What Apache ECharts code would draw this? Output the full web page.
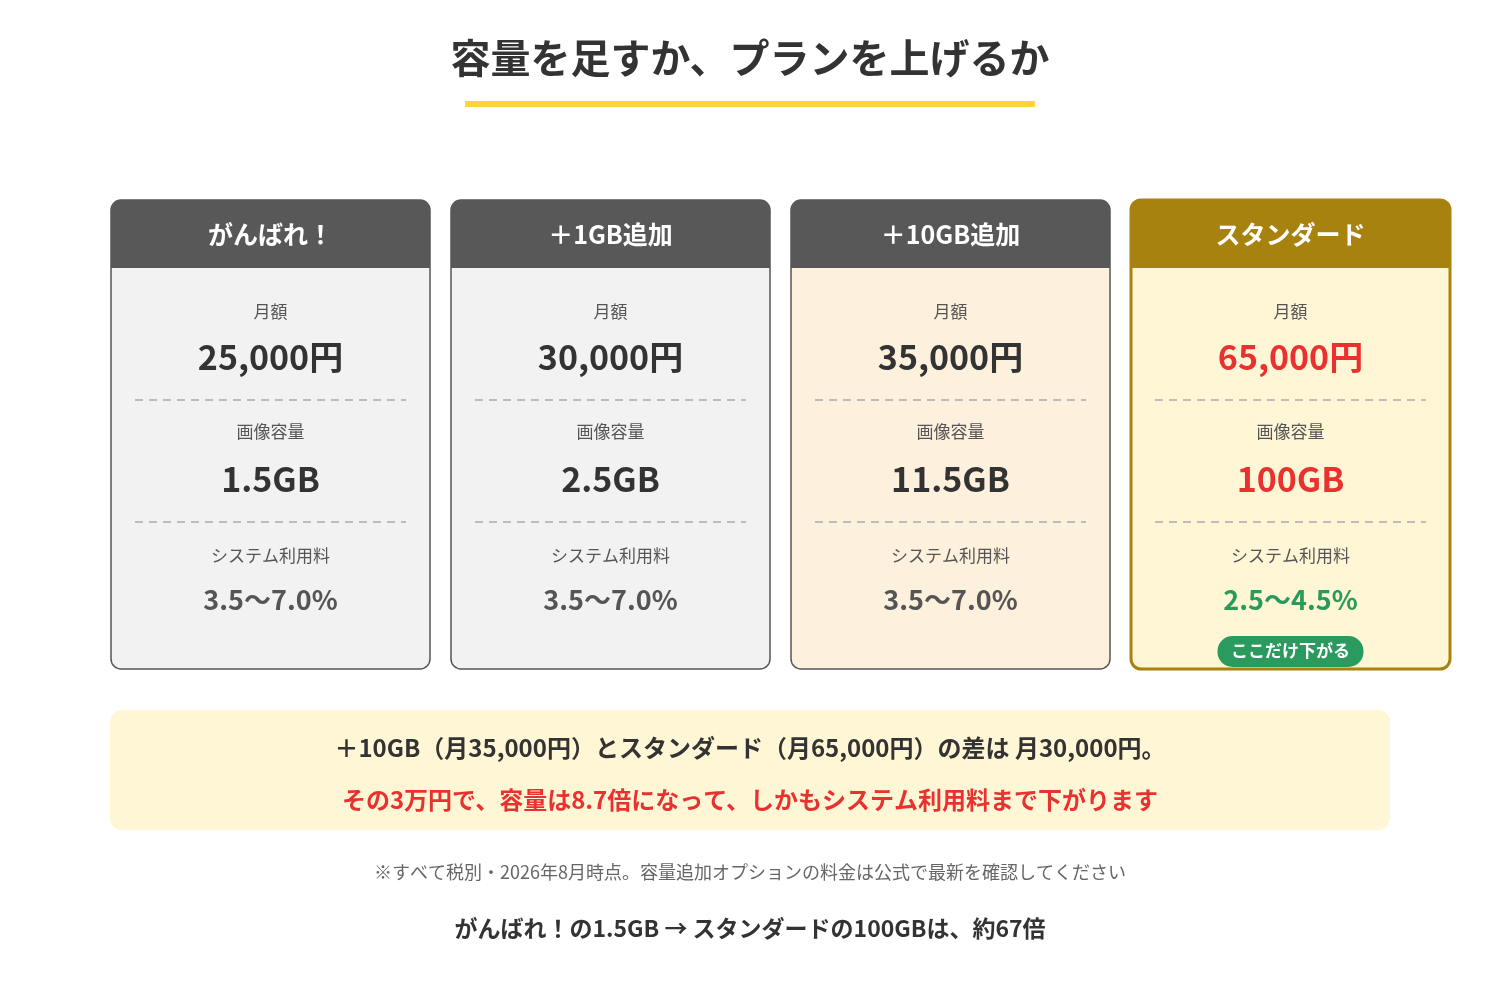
<!DOCTYPE html>
<html><head><meta charset="utf-8">
<script src="https://cdn.jsdelivr.net/npm/echarts@6/dist/echarts.min.js"></script>
<style>html,body{margin:0;padding:0;background:#fff}#c{width:1500px;height:1000px}</style>
</head><body><div id="c"></div>
<script>
const planNames = ['がんばれ！', '＋1GB追加', '＋10GB追加', 'スタンダード'];
const monthlyPrices = ['25,000円', '30,000円', '35,000円', '65,000円'];
const storage = ['1.5GB', '2.5GB', '11.5GB', '100GB'];
const feeRates = ['3.5〜7.0%', '3.5〜7.0%', '3.5〜7.0%', '2.5〜4.5%'];
const rowLabels = ['月額', '画像容量', 'システム利用料'];
const titleText = '容量を足すか、プランを上げるか';
const badgeText = 'ここだけ下がる';
const noteLine1 = '＋10GB（月35,000円）とスタンダード（月65,000円）の差は 月30,000円。';
const noteLine2 = 'その3万円で、容量は8.7倍になって、しかもシステム利用料まで下がります';
const footnote = '※すべて税別・2026年8月時点。容量追加オプションの料金は公式で最新を確認してください';
const summary = 'がんばれ！の1.5GB → スタンダードの100GBは、約67倍';

const JP = '"Noto Sans CJK JP", "Noto Sans", sans-serif';
const NUM = '"Liberation Sans Narrow", "Noto Sans CJK JP", sans-serif';
const bodyFill = ['#F2F2F2', '#F2F2F2', '#FDF0DC', '#FFF6D5'];
const headFill = ['#585858', '#585858', '#585858', '#A8820F'];
const g = [];
function txt(x, y, s, size, color, weight, font) {
  g.push({type: 'text', x: x, y: y, style: {text: s, fontSize: size, fill: color, fontWeight: weight || 'normal', fontFamily: font || JP, align: 'center', verticalAlign: 'middle'}});
}
txt(750, 58, titleText, 40, '#333', 'bold');
g.push({type: 'rect', shape: {x: 465, y: 101, width: 570, height: 6}, style: {fill: '#FFD43B'}});

planNames.forEach((name, i) => {
  const x = 111 + i * 340, w = 319, cx = x + w / 2;
  const last = i === 3;
  const bc = last ? '#A8820F' : '#555';
  g.push({type: 'rect', shape: {x: x, y: 200, width: w, height: 469, r: 10}, style: {fill: bodyFill[i], stroke: bc, lineWidth: last ? 3 : 1.5}});
  g.push({type: 'rect', shape: {x: x, y: 200, width: w, height: 68, r: [10, 10, 0, 0]}, style: {fill: headFill[i]}});
  txt(cx, 234, name, 25, '#fff', 'bold');
  const red = '#E8322F';
  txt(cx, 312, rowLabels[0], 17, '#555');
  txt(cx, 357, monthlyPrices[i], 34, last ? red : '#333', 'bold', NUM);
  g.push({type: 'line', shape: {x1: x + 24, y1: 400, x2: x + w - 24, y2: 400}, style: {stroke: '#aaa', lineWidth: 1.5, lineDash: [8, 6]}});
  txt(cx, 432, rowLabels[1], 17, '#555');
  txt(cx, 479, storage[i], 34, last ? red : '#333', 'bold', NUM);
  g.push({type: 'line', shape: {x1: x + 24, y1: 522, x2: x + w - 24, y2: 522}, style: {stroke: '#aaa', lineWidth: 1.5, lineDash: [8, 6]}});
  txt(cx, 556, rowLabels[2], 17, '#555');
  txt(cx, 600, feeRates[i], 27, last ? '#2A9A5A' : '#555', 'bold', NUM);
  if (last) {
    g.push({type: 'rect', shape: {x: cx - 73, y: 636, width: 146, height: 31, r: 15}, style: {fill: '#2A9A5E'}});
    txt(cx, 651, badgeText, 17, '#fff', 'bold');
  }
});

g.push({type: 'rect', shape: {x: 110, y: 710, width: 1280, height: 120, r: 12}, style: {fill: '#FFF6D5'}});
txt(750, 748, noteLine1, 24, '#333', 'bold');
txt(750, 800, noteLine2, 24, '#E8322F', 'bold');
txt(750, 872, footnote, 18, '#666');
txt(750, 928, summary, 23, '#333', 'bold');

const chart = echarts.init(document.getElementById('c'));
chart.setOption({backgroundColor: '#fff', graphic: g});
</script></body></html>
